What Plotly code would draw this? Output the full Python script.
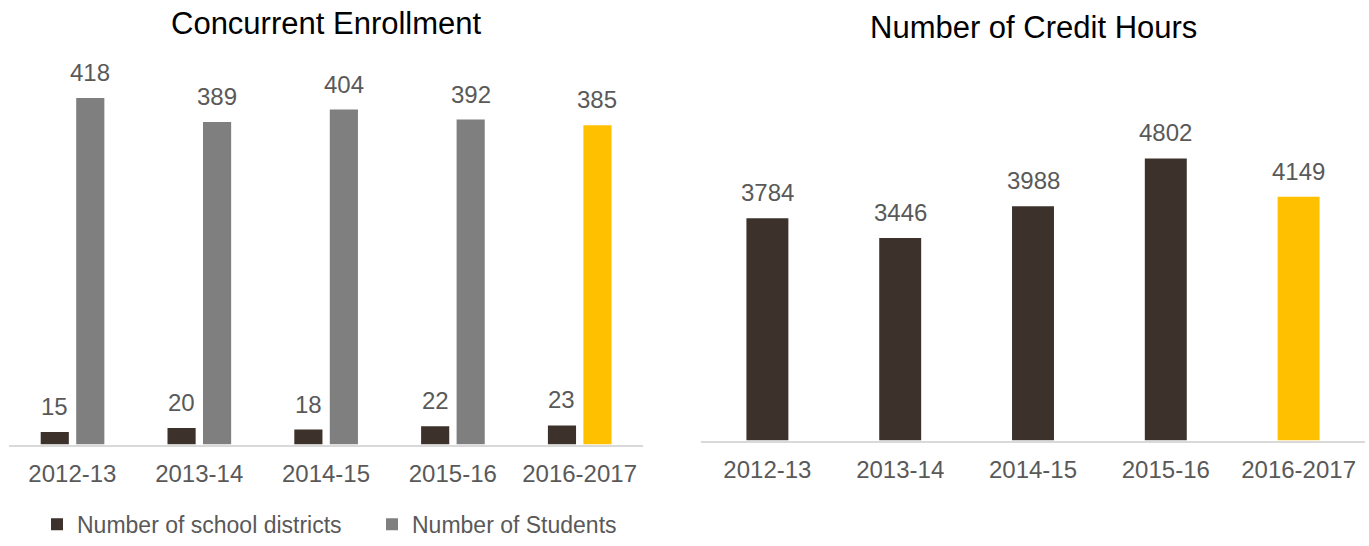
import plotly.graph_objects as go

years = ["2012-13", "2013-14", "2014-15", "2015-16", "2016-2017"]
school_districts = [15, 20, 18, 22, 23]
students = [418, 389, 404, 392, 385]
credit_hours = [3784, 3446, 3988, 4802, 4149]

title_left = "Concurrent Enrollment"
title_right = "Number of Credit Hours"
legend_names = ["Number of school districts", "Number of Students"]

DARK = "#3C322B"
GRAY = "#7F7F7F"
YELLOW = "#FFC000"
TXT = "#595959"
FONT = "Liberation Sans, Arial, sans-serif"

W, H = 1369, 546

fig = go.Figure()

bw_left = 0.222
off_dark = -0.25
off_gray = 0.03
bw_right = 0.316

fig.add_trace(go.Bar(
    x=years, y=school_districts, name=legend_names[0],
    marker=dict(color=DARK, line=dict(width=0)),
    width=bw_left, offset=off_dark, xaxis="x", yaxis="y", hoverinfo="x+y"))
fig.add_trace(go.Bar(
    x=years, y=students, name=legend_names[1],
    marker=dict(color=[GRAY] * (len(years) - 1) + [YELLOW], line=dict(width=0)),
    width=bw_left, offset=off_gray, xaxis="x", yaxis="y", hoverinfo="x+y"))
fig.add_trace(go.Bar(
    x=years, y=credit_hours, name="Number of Credit Hours", showlegend=False,
    marker=dict(color=[DARK] * (len(years) - 1) + [YELLOW], line=dict(width=0)),
    width=bw_right, offset=-bw_right / 2, xaxis="x2", yaxis="y2", hoverinfo="x+y"))

annotations = []
LABEL_SHIFT = 10
for i, v in enumerate(school_districts):
    annotations.append(dict(x=i + off_dark + bw_left / 2, y=v, xref="x", yref="y",
                            text=str(v), showarrow=False, yanchor="bottom",
                            yshift=LABEL_SHIFT, font=dict(size=24, color=TXT, family=FONT)))
for i, v in enumerate(students):
    annotations.append(dict(x=i + off_gray + bw_left / 2, y=v, xref="x", yref="y",
                            text=str(v), showarrow=False, yanchor="bottom",
                            yshift=LABEL_SHIFT, font=dict(size=24, color=TXT, family=FONT)))
for i, v in enumerate(credit_hours):
    annotations.append(dict(x=i, y=v, xref="x2", yref="y2",
                            text=str(v), showarrow=False, yanchor="bottom",
                            yshift=LABEL_SHIFT, font=dict(size=24, color=TXT, family=FONT)))

# titles
annotations.append(dict(x=(9 + 643) / 2 / W, y=1 - 24 / H, xref="paper", yref="paper",
                        text=title_left, showarrow=False, xanchor="center", yanchor="middle",
                        font=dict(size=31, color="#000000", family=FONT)))
annotations.append(dict(x=(701 + 1365) / 2 / W, y=1 - 28 / H, xref="paper", yref="paper",
                        text=title_right, showarrow=False, xanchor="center", yanchor="middle",
                        font=dict(size=31, color="#000000", family=FONT)))

xaxis_common = dict(type="category", showline=True, linecolor="#D9D9D9", linewidth=2,
                    showgrid=False, zeroline=False, ticks="",
                    tickfont=dict(size=24, color=TXT, family=FONT),
                    ticklabelstandoff=7, fixedrange=True)
yaxis_common = dict(showgrid=False, zeroline=False, showticklabels=False,
                    showline=False, ticks="", fixedrange=True)

top_px = 60
fig.update_layout(
    width=W, height=H,
    margin=dict(l=0, r=0, t=0, b=0),
    paper_bgcolor="white", plot_bgcolor="white",
    barmode="overlay",
    font=dict(family=FONT, color=TXT),
    xaxis=dict(domain=[9 / W, 643 / W], anchor="y", **xaxis_common),
    yaxis=dict(domain=[1 - 452 / H, 1 - top_px / H], anchor="x",
               range=[0, (452 - top_px) / 0.843], **yaxis_common),
    xaxis2=dict(domain=[701 / W, 1365 / W], anchor="y2", **xaxis_common),
    yaxis2=dict(domain=[1 - 448 / H, 1 - top_px / H], anchor="x2",
                range=[0, (448 - top_px) / 0.05976], **yaxis_common),
    legend=dict(orientation="h", x=37 / W, xanchor="left", y=1 - 533 / H, yanchor="middle",
                font=dict(size=23, color=TXT, family=FONT), bgcolor="rgba(0,0,0,0)",
                entrywidth=290, traceorder="normal"),
    annotations=annotations,
    showlegend=True,
)

fig.write_html(
    "out.html",
    config={"displayModeBar": False},
    post_script="document.body.style.margin='0';document.body.style.padding='0';"
                "document.documentElement.style.overflow='hidden';"
)
